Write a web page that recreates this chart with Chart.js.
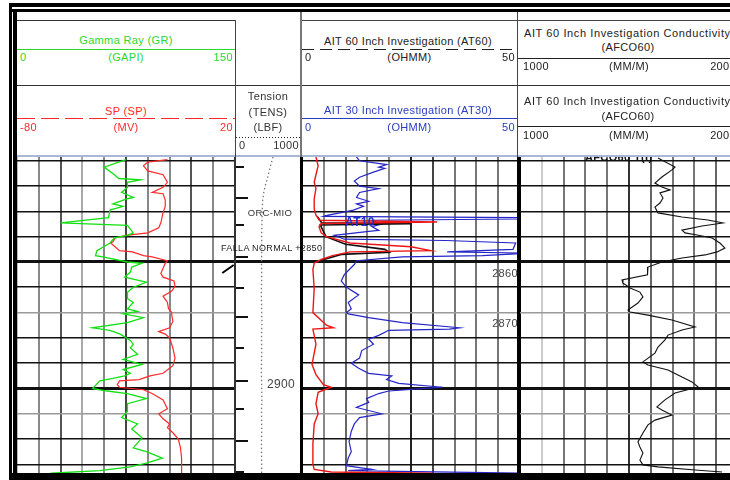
<!DOCTYPE html>
<html>
<head>
<meta charset="utf-8">
<script src="https://cdn.jsdelivr.net/npm/chart.js@4.4.1/dist/chart.umd.min.js"></script>
<style>
  body { margin:0; width:730px; height:480px; overflow:hidden; background:#fff; position:relative;
         font-family:"Liberation Sans", Arial, sans-serif; }
  .bar { position:absolute; }
  .txt { position:absolute; font-size:11px; line-height:12px; white-space:nowrap; color:#222; letter-spacing:0.35px; }
  canvas { position:absolute; }
</style>
</head>
<body>
<canvas id="trk1" width="218" height="317" style="left:17px;top:157px"></canvas>
<canvas id="trkDepth" width="64" height="317" style="left:236px;top:157px"></canvas>
<canvas id="trk2" width="218" height="317" style="left:302px;top:157px"></canvas>
<canvas id="trk3" width="218" height="317" style="left:520px;top:157px"></canvas>
<script>
// depth window of the log (m)
const depthTop = 2808.5;
const depthBase = 2933.8;

// Gamma Ray (GAPI)
const grDepth = [2809.5,2812.5,2815.5,2817,2817.5,2818.5,2820.5,2822.5,2824.5,2825,2827,2828,2829.5,2832.5,2834.5,2835.5,2838.5,2839.5,2840.5,2842.5,2845.5,2847.5,2848,2850,2850.5,2852,2854,2856,2858,2860,2862,2864.5,2866,2868.5,2869.5,2870.5,2872,2874,2876,2877,2878.5,2881,2882.5,2884,2886.5,2888.5,2890.5,2892.5,2894,2895,2896,2897,2900,2901,2902,2904,2906,2909,2911.5,2914,2916,2919.5,2923.5,2925,2927.5,2929.5,2931,2932.5,2933.5];
const grValue = [75,60,67,70,85,76,76,72,80,76,66,73,64,63,30,76,80,76,67,64,55,54,59,76,86,79,78,74,89,80,76,76,80,76,83,73,87,76,52,64,71,78,80,78,83,73,86,73,78,74,66,57,52,62,76,89,76,76,72,83,79,86,80,89,100,89,78,57,23];

// SP (MV)
const spDepth = [2809.5,2810.5,2812,2814,2815.5,2818.5,2820.5,2822.5,2823,2825.5,2828,2830.5,2834.5,2836.5,2838.5,2839.5,2840.5,2842,2842.5,2845.5,2846,2847.5,2848,2849.5,2850.5,2852.5,2854.5,2856,2857.5,2859.5,2861.5,2863.5,2866,2868.5,2870,2871,2873.5,2876,2877.5,2878.5,2880,2884,2888,2891,2894,2895,2896.5,2897,2898.5,2899.5,2900.5,2902,2904.5,2908,2910,2912,2914,2915.5,2917.5,2920,2923.5,2927.5,2931.5,2934];
const spValue = [-11,-20,-22,-20,-13,-11,-13,-18,-13,-12,-12,-13,-14,-15,-20,-30,-35,-36,-37,-33,-27,-22,-18,-11,-12,-13,-14,-13,-8,-7.5,-9,-13,-11,-10.5,-9,-9,-8.5,-10,-15,-12,-10,-8.5,-7.5,-8.5,-13,-19,-24,-33,-34,-33,-22,-18,-13,-11,-15,-13,-10,-11,-8.5,-6,-5,-4.5,-4.5,-4.5];

// Tension (LBF)
const tensDepth = [2808.5,2811,2814,2817,2820,2823,2826,2830,2835,2840,2845,2850,2856,2862,2868,2874,2880,2886,2892,2898,2904,2910,2916,2922,2928,2933.8];
const tensValue = [580,550,520,490,455,430,415,410,405,400,404,398,402,396,400,405,398,402,396,400,404,398,402,398,400,400];

// AT30 (OHMM)
const at30Depth = [2808.5,2810,2811.5,2812.5,2813,2814.5,2816.5,2818,2820,2821,2822.5,2824.5,2826,2827,2828,2829.5,2830.5,2831.5,2832,2832.5,2833,2833.5,2835,2836,2837.5,2838,2839.5,2841,2841.5,2842.5,2845,2846,2846.5,2847.5,2848,2849.5,2851,2855,2857.5,2860,2863,2866,2868.5,2870,2870.5,2872,2874,2876,2876.5,2877,2879,2880.5,2882.5,2885,2888,2890,2892,2894,2895,2896.5,2898,2899.5,2901,2902,2904,2905.5,2907.5,2910,2911.5,2914,2917,2921,2925,2927.5,2930.5,2932,2932.5,2933.5];
const at30Value = [12.5,13.2,19.4,17.6,19,16.4,13.2,12,13.2,17.6,13.2,12.5,15.3,12.5,14.1,11.8,9,6,5,52,50,16,18.3,16,17.6,14.8,7.4,9.7,33,49,48.4,33.3,52,41.4,23,12.5,12,9.7,9,10.2,13,10.6,11.3,10.2,10.6,15.3,23,36.1,33.8,19.9,17.6,15.3,16.4,13.7,13.2,11.3,13,15.3,20.6,19.4,22.2,32.2,19.9,17.6,14.8,15.3,12.5,18.3,13.2,12,11.3,10.8,11.3,10.6,10.2,16,10.6,52];

// AT10 (OHMM)
const at10Depth = [2808.5,2812,2815.5,2818.5,2821,2825,2829,2831.5,2833.5,2834.2,2834.8,2836,2838.5,2840,2842.5,2844,2845.5,2846,2847.5,2849,2850.5,2853,2860.5,2870,2875,2876,2876.5,2882.5,2890.5,2894.5,2898.5,2899.5,2901.5,2906,2910,2914,2922,2930,2932,2933,2933.5];
const at10Value = [3.2,3.7,3.2,2.8,3.2,2.8,2.8,3.2,4,31,4.4,3.9,4.4,5.6,11,25,29.5,11,7,4.4,2.8,2.5,2.8,2.5,5.6,7.2,2.5,3.2,2.3,3.2,4.9,6.7,3.7,3.2,3.7,2.8,2.5,2.5,2.8,6.7,30];

// AT60 (OHMM)
const at60Depth = [2832,2834.5,2834.9,2835.4,2840,2843,2845,2846.2,2847,2848.5,2850];
const at60Value = [3.5,4.5,25,4.2,5.5,10,19,20,9,6,3];

// AFCO60 (MM/M)
const afcoDepth = [2808.9,2812.5,2813.6,2816.4,2818.8,2820.4,2821.5,2822.7,2824.7,2826.7,2828.3,2830.6,2832.2,2833.4,2834.6,2835.8,2837.4,2838.5,2839.3,2840.5,2842.5,2844.5,2846,2847.2,2848.4,2850,2852,2853.2,2855.1,2857.1,2858.3,2860.3,2861.9,2863.8,2866.2,2869,2869.8,2871,2872.9,2875.7,2876.9,2878.9,2880.8,2883.6,2886,2889.5,2890.7,2892.7,2895.5,2897.4,2899.4,2901.8,2904.5,2907.3,2908.5,2910.5,2912.5,2914.4,2917.6,2921.1,2923.1,2925.5,2928.3,2930.2,2931,2932.2,2933];
const afcoValue = [1633,1711,1697,1651,1619,1651,1688,1642,1656,1642,1619,1633,1743,1862,1931,1835,1743,1757,1812,1881,1917,1940,1904,1849,1743,1651,1587,1583,1587,1468,1472,1505,1550,1564,1541,1495,1505,1587,1697,1803,1743,1679,1665,1633,1619,1564,1587,1679,1743,1789,1817,1711,1665,1628,1651,1697,1619,1587,1564,1541,1550,1564,1550,1564,1633,1803,1927];

// scale ranges and header labels
const grRange = [0, 150];
const spRange = [-80, 20];
const tensRange = [0, 1000];
const resRange = [0, 50];
const condRange = [1000, 2000];
const grLabels = ['0', '(GAPI)', '150'];
const spLabels = ['-80', '(MV)', '20'];
const tensLabels = ['0', '1000'];
const resLabels = ['0', '(OHMM)', '50'];
const condLabels = ['1000', '(MM/M)', '2000'];

// tension track tick marks and faint depth rows
const tickDepths = [2812.5,2824.7,2835.4,2848,2860.3,2871.7,2884,2897,2908.1,2920.8,2933];
const lightDepths = [2870, 2910];

// vertical grid shades, one per division line
const track1Grid = ['#bbb','#888','#555','#aaa','#888','#444','#888','#888','#555','#888','#333'];
const track2Grid = ['#000','#888','#666','#888','#888','#222','#444','#777','#777','#777','#000'];
const track3Grid = ['#000','#ccc','#777','#777','#777','#333','#666','#777','#777','#666','#777'];

const page = document.body;
function box(x, y, w, h, bg, extra) {
  const d = document.createElement('div');
  d.className = 'bar';
  Object.assign(d.style, {left: x + 'px', top: y + 'px', width: w + 'px', height: h + 'px', background: bg}, extra || {});
  page.appendChild(d);
  return d;
}
function text(str, x, y, align, color, size, extra, parent) {
  const d = document.createElement('div');
  d.className = 'txt';
  d.textContent = str;
  d.style.top = (y - 6) + 'px';
  d.style.color = color || '#222';
  if (size) d.style.fontSize = size + 'px';
  if (align === 'center') { d.style.left = x + 'px'; d.style.transform = 'translateX(-50%)'; }
  else if (align === 'right') { d.style.right = (730 - x) + 'px'; }
  else d.style.left = x + 'px';
  Object.assign(d.style, extra || {});
  (parent || page).appendChild(d);
  return d;
}
function dashLine(x, y, w, color, on, off) {
  return box(x, y, w, 1, 'repeating-linear-gradient(to right,' + color + ' 0 ' + on + 'px, transparent ' + on + 'px ' + (on + off) + 'px)');
}
function scaleRow(labels, x0, x1, y, color) {
  text(labels[0], x0 + 3, y, 'left', color);
  if (labels.length === 3) {
    text(labels[1], (x0 + x1) / 2, y, 'center', color);
    text(labels[2], x1 - 2, y, 'right', color);
  } else {
    text(labels[1], x1 - 1, y, 'right', color);
  }
}

function curve(depths, values, color, width, axis, dash) {
  return {
    data: depths.map((d, i) => ({x: values[i], y: d})),
    xAxisID: axis, yAxisID: 'y',
    showLine: true, pointRadius: 0, borderColor: color, borderWidth: width,
    borderDash: dash || [], tension: 0, fill: false
  };
}
function depthScale(color, width) {
  return {
    type: 'linear', reverse: true, min: depthTop, max: depthBase,
    ticks: {display: false, stepSize: 10, includeBounds: false},
    grid: {drawTicks: false, color: color, lineWidth: width},
    border: {display: false}
  };
}
const rowColor = c => c.tick && lightDepths.includes(c.tick.value) ? '#9a9a9a' : '#111';
const rowWidth = c => c.tick && c.tick.value % 50 === 0 ? 3 : 1.6;

function valueScale(range, colors, show) {
  return {
    type: 'linear', min: range[0], max: range[1], display: show,
    ticks: {display: false, stepSize: (range[1] - range[0]) / 10},
    grid: {drawTicks: false, color: c => colors[c.index] || '#777', lineWidth: 2},
    border: {display: false}
  };
}
function track(id, scales, datasets, extra) {
  return new Chart(id, {
    type: 'scatter',
    data: {datasets},
    options: {
      responsive: false, animation: false, events: [],
      layout: {padding: 0},
      plugins: {legend: {display: false}, tooltip: {enabled: false}},
      scales
    },
    plugins: extra || []
  });
}

// tick marks down the left edge of the tension track
const depthTicks = {
  id: 'depthTicks',
  afterDraw(chart) {
    const {ctx, chartArea, scales} = chart;
    ctx.save();
    ctx.strokeStyle = '#111';
    ctx.lineWidth = 2;
    tickDepths.forEach((d, i) => {
      const py = Math.round(scales.y.getPixelForValue(d));
      ctx.beginPath();
      ctx.moveTo(chartArea.left, py);
      ctx.lineTo(chartArea.left + (i % 2 ? 12 : 8), py);
      ctx.stroke();
    });
    ctx.restore();
  }
};

track('trk1', {
  x: valueScale(grRange, track1Grid, true),
  xSP: valueScale(spRange, track1Grid, false),
  y: depthScale(rowColor, rowWidth)
}, [
  curve(grDepth, grValue, '#11e011', 1.3, 'x'),
  curve(spDepth, spValue, '#ff2a2a', 1.2, 'xSP')
]);

track('trkDepth', {
  x: valueScale(tensRange, [], false),
  y: depthScale(c => c.tick && c.tick.value === 2850 ? '#111' : 'rgba(0,0,0,0)', 3)
}, [
  curve(tensDepth, tensValue, '#777', 1.3, 'x', [1.5, 2.5])
], [depthTicks]);

track('trk2', {
  x: valueScale(resRange, track2Grid, true),
  y: depthScale(rowColor, rowWidth)
}, [
  curve(at10Depth, at10Value, '#ee1515', 1.4, 'x'),
  curve(at60Depth, at60Value, '#111', 1.6, 'x'),
  curve(at30Depth, at30Value, '#2525c8', 1.2, 'x')
]);

track('trk3', {
  x: valueScale(condRange, track3Grid, true),
  y: depthScale(rowColor, rowWidth)
}, [
  curve(afcoDepth, afcoValue, '#111', 1.1, 'x')
]);

// frame
box(9, 3, 721, 4, '#000');
box(9, 9, 721, 3, '#000');
box(9, 3, 3, 477, '#000');
box(13, 9, 4, 471, '#000');
box(9, 473, 721, 7, '#000');

// header rules
box(17, 20, 218, 1, '#333');
box(302, 20, 428, 1, '#444');
box(17, 85, 713, 1, '#333');
box(17, 155, 713, 2, '#a9b6d6');
box(235, 20, 1, 137, '#444');
box(300, 12, 2, 145, '#777');
box(517, 12, 1, 145, '#444');

// track borders
box(234, 157, 2, 316, '#333');
box(300, 157, 3, 316, '#000');
box(517, 157, 3, 316, '#000');

// track 1 header
const green = '#2bd82b', red = '#ff2a2a', blue = '#2a3cc0';
text('Gamma Ray (GR)', 126, 40, 'center', green);
box(17, 49, 218, 1, green);
scaleRow(grLabels, 17, 235, 57, green);
text('SP (SP)', 126, 111, 'center', red);
dashLine(17, 118, 218, red, 18, 6);
scaleRow(spLabels, 17, 235, 127, red);

// tension header
text('Tension', 268, 96, 'center', '#333');
text('(TENS)', 268, 112, 'center', '#333');
text('(LBF)', 268, 127, 'center', '#333');
dashLine(236, 137, 64, '#222', 1, 2);
scaleRow(tensLabels, 236, 300, 145, '#333');

// track 2 header
text('AIT 60 Inch Investigation (AT60)', 408, 41, 'center', '#222');
dashLine(302, 49, 215, '#222', 12, 6);
scaleRow(resLabels, 302, 517, 57, '#222');
text('AIT 30 Inch Investigation (AT30)', 408, 110, 'center', blue);
box(302, 118, 215, 1, blue);
scaleRow(resLabels, 302, 517, 127, blue);

// track 3 header
text('AIT 60 Inch Investigation Conductivity', 524, 33, 'left', '#222', 11, {letterSpacing: '0.6px'});
text('(AFCO60)', 628, 47, 'center', '#222');
box(518, 58, 212, 1, '#222');
scaleRow(condLabels, 520, 738, 66, '#222');
text('AIT 60 Inch Investigation Conductivity', 524, 101, 'left', '#222', 11, {letterSpacing: '0.6px'});
text('(AFCO60)', 628, 116, 'center', '#222');
box(518, 126, 212, 1, '#222');
scaleRow(condLabels, 520, 738, 135, '#222');

// annotations in the log body
text('ORC-MIO', 270, 213, 'center', '#333', 9.5);
text('FALLA NORMAL +2850', 221, 248, 'left', '#222', 9);
box(221, 268, 14, 2, '#000', {transform: 'rotate(-35deg)'});
text('AT10', 345, 222, 'left', '#1f2fc8', 12, {fontWeight: 'bold'});
text('2860', 518, 273, 'right', '#444', 11);
text('2870', 518, 323, 'right', '#444', 11);
text('2900', 281, 384, 'center', '#444', 12);
const cut = box(585, 157, 90, 7, 'transparent', {overflow: 'hidden'});
text('AFCO60 T(I)', 0, 0, 'left', '#111', 11, {fontWeight: 'bold'}, cut);
</script>
</body>
</html>
